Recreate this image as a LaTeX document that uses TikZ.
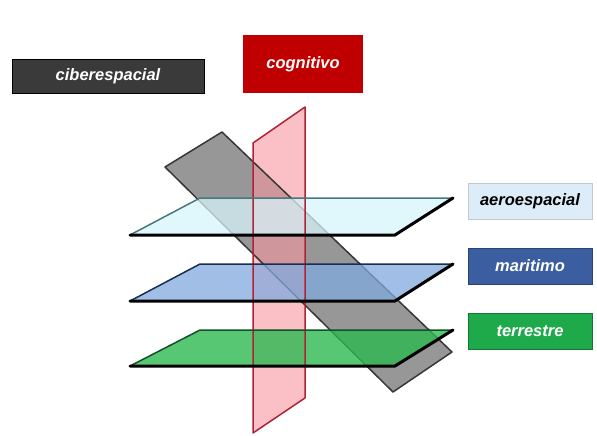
\documentclass[tikz,border=0pt]{standalone}
\usepackage{fontspec}
\setsansfont{Liberation Sans}
\usetikzlibrary{calc}

\definecolor{ciberbox}{RGB}{58,58,58}
\definecolor{cogbox}{RGB}{192,0,0}
\definecolor{aerobox}{RGB}{220,236,248}
\definecolor{marbox}{RGB}{58,94,160}
\definecolor{terrbox}{RGB}{30,170,75}

\definecolor{aerofill}{RGB}{214,244,250}
\definecolor{aeroedge}{RGB}{70,120,125}
\definecolor{marfill}{RGB}{130,170,222}
\definecolor{maredge}{RGB}{25,45,80}
\definecolor{terrfill}{RGB}{45,185,80}
\definecolor{terredge}{RGB}{20,80,40}
\definecolor{ciberfill}{RGB}{125,125,125}
\definecolor{ciberedge}{RGB}{55,55,55}
\definecolor{cogfill}{RGB}{246,150,160}
\definecolor{cogedge}{RGB}{175,35,55}

\tikzset{
  lbl/.style={inner sep=0pt, font=\sffamily\bfseries\itshape\fontsize{16.5}{18}\selectfont},
  backline/.style={line width=1.5pt, line join=round},
  frontline/.style={black, line width=3pt, line join=round, line cap=round},
}

\begin{document}
\begin{tikzpicture}[x=1pt, y=-1pt]

  \useasboundingbox (0,0) rectangle (597,436);

  % slanted and vertical planes
  \fill[ciberfill, fill opacity=0.8] (165,167) -- (222,132) -- (452,352) -- (393,392) -- cycle;
  \fill[cogfill, fill opacity=0.6] (253,143) -- (305,107) -- (305,398) -- (253,433) -- cycle;
  \draw[ciberedge, backline] (165,167) -- (222,132) -- (452,352) -- (393,392) -- cycle;

  % horizontal planes
  \fill[terrfill, fill opacity=0.8] (200,330) -- (453,330) -- (395,366) -- (130,366) -- cycle;
  \fill[marfill, fill opacity=0.75] (200,264) -- (453,264) -- (395,301) -- (130,301) -- cycle;
  \fill[aerofill, fill opacity=0.75] (200,198) -- (453,198) -- (395,235) -- (130,235) -- cycle;
  \draw[cogedge, backline] (253,143) -- (305,107) -- (305,398) -- (253,433) -- cycle;

  % plane edges
  \draw[terredge, backline] (130,366) -- (200,330) -- (453,330);
  \draw[frontline] (130,366) -- (395,366) -- (453,330);
  \draw[maredge, backline] (130,301) -- (200,264) -- (453,264);
  \draw[frontline] (130,301) -- (395,301) -- (453,264);
  \draw[aeroedge, backline] (130,235) -- (200,198) -- (453,198);
  \draw[frontline] (130,235) -- (395,235) -- (453,198);

  % labels
  \node[lbl, fill=ciberbox, draw=black, text=white, minimum width=192pt, minimum height=34pt] (ciber) at (108,76) {ciberespacial};
  \node[lbl, fill=cogbox, text=white, minimum width=120pt, minimum height=58pt] (cog) at (303,64) {cognitivo};
  \node[lbl, fill=aerobox, draw=aerobox!70!black!60, text=black, minimum width=124pt, minimum height=36pt] (aero) at (530,201) {aeroespacial};
  \node[lbl, fill=marbox, draw=marbox!70!black, text=white, minimum width=124pt, minimum height=36pt] (mar) at (530,266) {maritimo};
  \node[lbl, fill=terrbox, draw=terrbox!70!black, text=white, minimum width=124pt, minimum height=36pt] (terr) at (530,331) {terrestre};

\end{tikzpicture}
\end{document}
